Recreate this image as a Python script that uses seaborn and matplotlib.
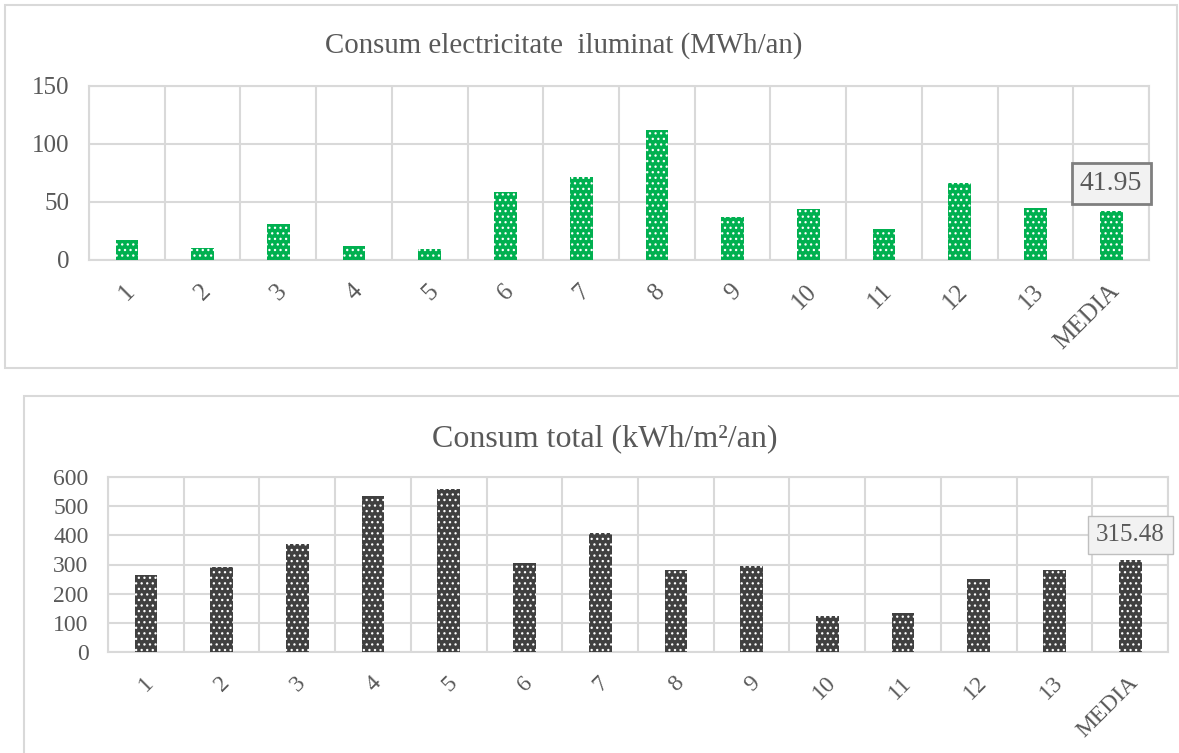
import numpy as np
import pandas as pd
import matplotlib
matplotlib.use("Agg")
import matplotlib.pyplot as plt
from matplotlib.patches import Rectangle
from matplotlib.transforms import ScaledTranslation
import seaborn as sns

# Categories shared by both charts
categories = ["1", "2", "3", "4", "5", "6", "7", "8", "9", "10", "11", "12", "13", "MEDIA"]

# Lighting electricity consumption (MWh/an)
lighting_mwh = [17.2, 10.1, 31.3, 12.3, 9.2, 58.9, 71.3, 112.0, 36.8, 43.7, 27.0, 66.6, 44.6, 41.95]

# Total consumption (kWh/m2/an)
total_kwh_m2 = [264, 290, 369, 535, 558, 306, 409, 281, 294, 123, 135, 251, 282, 315.48]

W, H = 1179, 753
TEXT = "#595959"
GRID = "#d9d9d9"

sns.set_style("white")
plt.rcParams["font.family"] = ["Liberation Serif", "DejaVu Serif"]
plt.rcParams["hatch.linewidth"] = 0.9

fig = plt.figure(figsize=(W / 100, H / 100), dpi=100)
fig.patch.set_facecolor("white")


def px_box(x0, y0, x1, y1):
    """Convert a pixel box (top-left origin) to figure fractions."""
    return [x0 / W, 1 - y1 / H, (x1 - x0) / W, (y1 - y0) / H]


def panel(x0, y0, x1, y1):
    l, b, w, h = px_box(x0, y0, x1, y1)
    fig.add_artist(Rectangle((l, b), w, h, transform=fig.transFigure,
                             fill=False, edgecolor=GRID, linewidth=1.5, zorder=0))


def draw_chart(ax, values, color, ymax, ystep, fs_tick, label_box):
    df = pd.DataFrame({"cat": categories, "val": values})
    sns.barplot(data=df, x="cat", y="val", color=color, saturation=1,
                width=0.3, ax=ax, zorder=3)
    for p in ax.patches:
        p.set_hatch("...")
        p.set_edgecolor("white")
        p.set_linewidth(0)
    ax.set_xlim(-0.5, len(categories) - 0.5)
    ax.set_ylim(0, ymax)
    ax.set_yticks(np.arange(0, ymax + 1, ystep))
    ax.set_xticks(np.arange(-0.5, len(categories), 1.0), minor=True)
    ax.grid(which="minor", axis="x", color=GRID, linewidth=1.5, zorder=0)
    ax.grid(which="major", axis="y", color=GRID, linewidth=1.5, zorder=0)
    ax.grid(which="major", axis="x", visible=False)
    for s in ax.spines.values():
        s.set_color(GRID)
        s.set_linewidth(1.5)
    ax.set_xlabel("")
    ax.set_ylabel("")
    ax.tick_params(axis="both", which="both", length=0, colors=TEXT, labelsize=fs_tick)
    ax.tick_params(axis="y", pad=14)
    ax.set_xticks(range(len(categories)))
    ax.set_xticklabels(categories, rotation=45, ha="right", va="center",
                       rotation_mode="anchor", color=TEXT, fontsize=fs_tick)
    ax.tick_params(axis="x", pad=20)
    shift = ScaledTranslation(5 / 100, 0, fig.dpi_scale_trans)
    for lab in ax.get_xticklabels():
        lab.set_transform(lab.get_transform() + shift)
    ax.set_axisbelow(True)
    # value label for the average bar
    last = len(categories) - 1
    ec, lw, fs, dy, pad = label_box
    ax.annotate(f"{values[last]:.2f}", xy=(last, values[last]), xytext=(0, dy),
                textcoords="offset points", ha="center", va="bottom",
                fontsize=fs, color=TEXT, zorder=5,
                bbox=dict(boxstyle=f"square,pad={pad}", facecolor="#f2f2f2",
                          edgecolor=ec, linewidth=lw))


# Top chart
panel(5, 5, 1177, 368)
ax1 = fig.add_axes(px_box(89, 86, 1149, 260))
draw_chart(ax1, lighting_mwh, "#00b050", 150, 50, 18, ("#7f7f7f", 2.0, 20, 11, 0.3))
fig.text(564 / W, 1 - 46 / H, "Consum electricitate  iluminat (MWh/an)",
         ha="center", va="center", fontsize=20.8, color=TEXT)

# Bottom chart
panel(24, 396, 1190, 770)
ax2 = fig.add_axes(px_box(108, 477, 1168, 652))
draw_chart(ax2, total_kwh_m2, "#404040", 600, 100, 17, ("#bfbfbf", 1.0, 18, 10, 0.32))
fig.text(605 / W, 1 - 439 / H, "Consum total (kWh/m²/an)",
         ha="center", va="center", fontsize=23, color=TEXT)

fig.savefig("out.png", dpi=100, facecolor="white")
